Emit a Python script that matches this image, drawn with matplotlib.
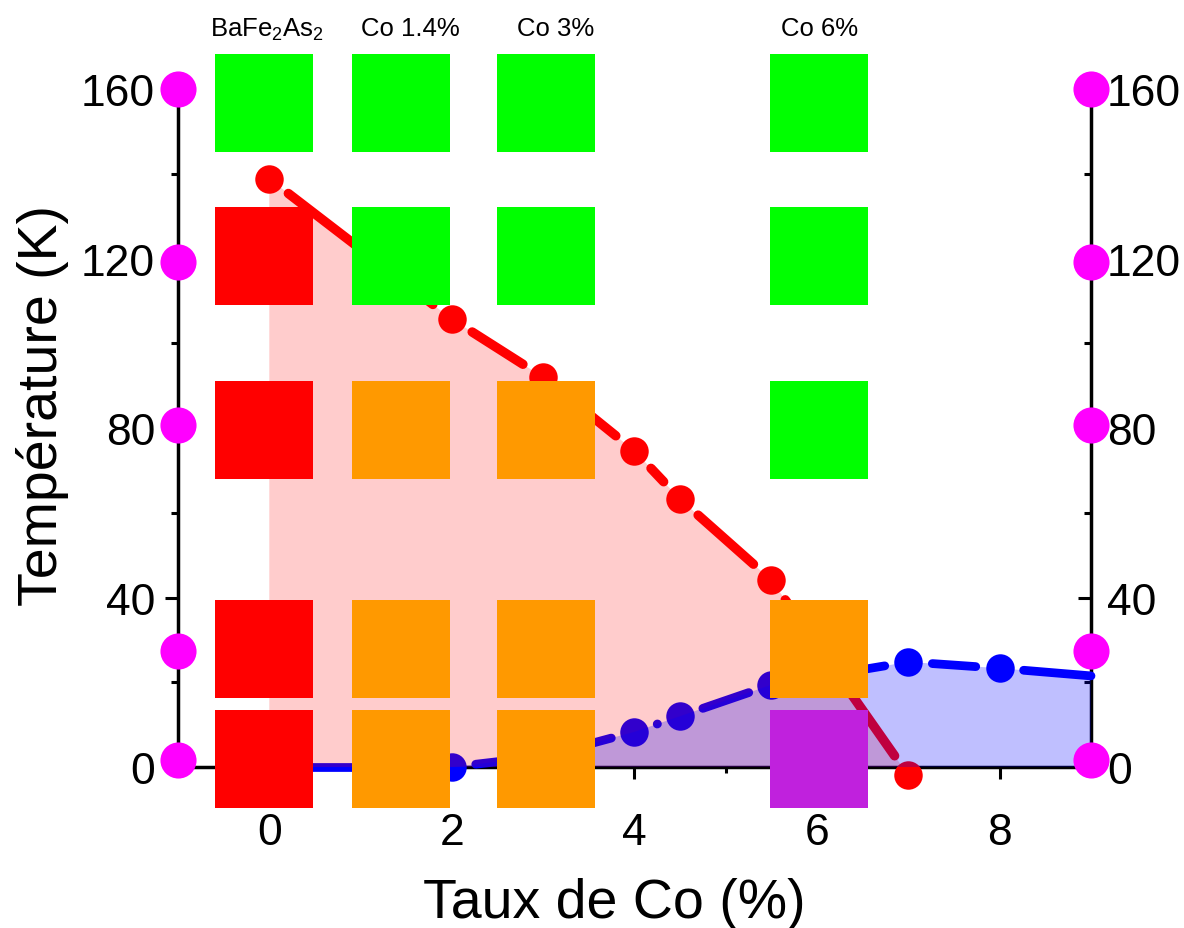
"""Phase diagram of Co-doped BaFe2As2 with the sample/temperature state grid."""
import matplotlib
matplotlib.use("Agg")
import matplotlib.pyplot as plt
import numpy as np

plt.rcParams["font.family"] = ["Liberation Sans", "DejaVu Sans"]
plt.rcParams["mathtext.fontset"] = "custom"
plt.rcParams["mathtext.rm"] = "Liberation Sans"

# red curve: structural / magnetic transition
red_x = [0, 2, 3, 4, 4.5, 5.5, 7]
red_T = [138.8, 105.7, 92.0, 74.6, 63.2, 44.1, -2.0]
# blue curve: superconducting Tc (last point has no symbol)
blue_x = [0, 2, 3, 4, 4.5, 5.5, 7, 8, 9]
blue_T = [0, 0, 2.5, 8.3, 12.0, 19.4, 24.8, 23.3, 21.5]
# measurement temperatures marked on both axes
mark_T = [160, 119.2, 80.7, 27.4, 1.6]

# state grid: one column per sample, one row per temperature
sample_labels = ["BaFe$_\\mathregular{2}$As$_\\mathregular{2}$", "Co 1.4%", "Co 3%", "Co 6%"]
sample_x = [-0.06, 1.44, 3.03, 6.02]
label_x = [-0.03, 1.55, 3.14, 6.03]
row_T = [156.7, 120.5, 79.6, 27.8, 1.9]
states = [
    ["g", "g", "g", "g"],
    ["r", "g", "g", "g"],
    ["r", "o", "o", "g"],
    ["r", "o", "o", "o"],
    ["r", "o", "o", "p"],
]

STATE_COL = {"g": "#00ff00", "r": "#ff0000", "o": "#ff9900", "p": "#c021dd"}
RED, BLUE, MAG = "#ff0000", "#0000ff", "#ff00ff"


def gapped_line(ax, xs, ys, color, lw, gap, open_end=False):
    """Origin-style line: each segment stops short of the symbols."""
    pts = ax.transData.transform(np.column_stack([xs, ys]))
    inv = ax.transData.inverted()
    n = len(pts)
    for i in range(n - 1):
        p, q = pts[i], pts[i + 1]
        u = (q - p) / np.hypot(*(q - p))
        a = p + u * gap
        b = q if (open_end and i == n - 2) else q - u * gap
        seg = inv.transform([a, b])
        ax.plot(seg[:, 0], seg[:, 1], color=color, lw=lw,
                solid_capstyle="round", zorder=3, clip_on=False)


fig = plt.figure(figsize=(11.84, 9.29), dpi=100, facecolor="white")
ax = fig.add_axes([0.15034, 0.17330, 0.77111, 0.72982])
ax.set_xlim(-1, 9)
ax.set_ylim(0, 160)

tw = ax.twinx()
tw.set_ylim(0, 160)
ax.set_zorder(2)
ax.patch.set_visible(False)

# curves
gapped_line(ax, red_x, red_T, RED, 6.8, 24)
ax.plot(red_x, red_T, "o", color=RED, ms=20.5, mew=0, zorder=3, clip_on=False)
gapped_line(ax, blue_x, blue_T, BLUE, 6.3, 24, open_end=True)
ax.plot(blue_x[:-1], blue_T[:-1], "o", color=BLUE, ms=20.5, mew=0, zorder=3, clip_on=False)

# translucent areas drawn over the lines
ax.fill_between(red_x, red_T, 0, facecolor=(1, 0, 0, 0.2), lw=0, zorder=4)
ax.fill_between(blue_x, blue_T, 0, facecolor=(0, 0, 1, 0.25), lw=0, zorder=4)

# state squares
for i, t in enumerate(row_T):
    for j, x in enumerate(sample_x):
        ax.plot(x, t, "s", ms=71, color=STATE_COL[states[i][j]], mew=0,
                zorder=7, clip_on=False)

# measurement temperature markers on both axes
for xe in (-1, 9):
    ax.plot([xe] * len(mark_T), mark_T, "o", ms=26, color=MAG, mew=0,
            zorder=8, clip_on=False)

for lbl, x in zip(sample_labels, label_x):
    ax.text(x, 172.7, lbl, ha="center", va="baseline", fontsize=18.5, clip_on=False)

# axes styling
for sp in ("top", "right"):
    ax.spines[sp].set_visible(False)
for sp in ("left", "bottom"):
    ax.spines[sp].set_linewidth(2.5)
for sp in ("top", "left", "bottom"):
    tw.spines[sp].set_visible(False)
tw.spines["right"].set_linewidth(2.5)

ax.set_xticks([0, 2, 4, 6, 8])
ax.set_xticks([1, 3, 5, 7], minor=True)
ax.set_yticks([0, 40, 80, 120, 160])
ax.set_yticks([20, 60, 100, 140], minor=True)
tw.set_yticks([0, 40, 80, 120, 160])
tw.set_yticks([20, 60, 100, 140], minor=True)

ax.tick_params(axis="x", which="major", direction="out", length=8.6, width=2.2,
               labelsize=32, pad=24)
ax.tick_params(axis="x", which="minor", direction="out", length=4.3, width=2.2)
ax.tick_params(axis="y", which="major", direction="out", length=9.4, width=2.2,
               labelsize=32, pad=7)
ax.tick_params(axis="y", which="minor", direction="out", length=5.0, width=2.2)
tw.tick_params(axis="y", which="major", direction="in", length=9.4, width=2.2,
               labelsize=32, pad=11.5)
tw.tick_params(axis="y", which="minor", direction="in", length=5.0, width=2.2)

fig.text(614 / 1184, 11 / 929, "Taux de Co (%)", ha="center", va="baseline", fontsize=40)
fig.text(57 / 1184, (929 - 606) / 929, "Température (K)", rotation=90,
         rotation_mode="anchor", ha="left", va="baseline", fontsize=40)

fig.savefig("out.png", dpi=100, facecolor="white")
